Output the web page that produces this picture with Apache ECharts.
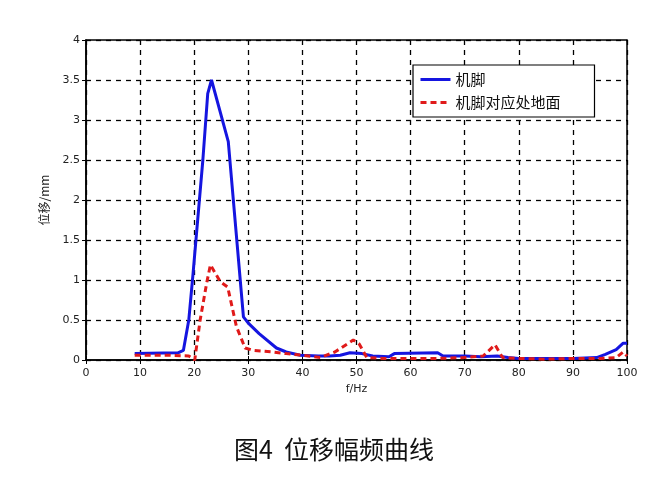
<!DOCTYPE html>
<html><head><meta charset="utf-8">
<script src="https://cdn.jsdelivr.net/npm/echarts@6/dist/echarts.min.js"></script>
<style>html,body{margin:0;padding:0;background:#fff}#c{width:668px;height:478px}</style>
</head><body><div id="c"></div>
<script>
const blueFreq = [9, 17, 18, 19, 19.8, 21.6, 22.5, 23.2, 26.3, 29.1, 30, 32, 35.2, 37, 39.6, 43, 45, 47, 48.8, 51, 53, 56, 57, 65, 66, 70, 73, 76, 78, 80, 85, 90, 94.4, 96, 98, 99.3, 100];
const blueVals = [0.08, 0.09, 0.12, 0.5, 1.09, 2.5, 3.33, 3.5, 2.73, 0.54, 0.46, 0.33, 0.15, 0.1, 0.06, 0.05, 0.05, 0.06, 0.09, 0.08, 0.05, 0.04, 0.08, 0.09, 0.05, 0.05, 0.04, 0.05, 0.03, 0.02, 0.02, 0.02, 0.03, 0.07, 0.13, 0.21, 0.21];
const redFreq = [9, 15, 19, 20.1, 21.1, 22.3, 23, 24.8, 26.2, 27.8, 29.4, 30.9, 34.6, 37, 40, 43.3, 46, 49.4, 50.5, 51.9, 55, 60, 65, 70, 73.4, 75.6, 77, 80, 85, 90, 95, 98, 99.3, 100];
const redVals = [0.06, 0.06, 0.05, 0.0, 0.5, 0.96, 1.19, 0.98, 0.91, 0.42, 0.15, 0.12, 0.1, 0.08, 0.06, 0.03, 0.1, 0.25, 0.2, 0.03, 0.02, 0.02, 0.02, 0.03, 0.05, 0.19, 0.03, 0.02, 0.01, 0.02, 0.02, 0.03, 0.1, 0.05];
const seriesNames = ['机脚', '机脚对应处地面'];
const xTitle = 'f/Hz';
const yTitle = '位移/mm';
const caption = '图4  位移幅频曲线';

const pair = (xs, ys) => xs.map((x, i) => [x, ys[i]]);
const chart = echarts.init(document.getElementById('c'));
const labelStyle = {color: '#222', fontSize: 11, fontFamily: 'DejaVu Sans'};
chart.setOption({
  animation: false,
  backgroundColor: '#fff',
  grid: {left: 86, right: 41, top: 40, bottom: 118, show: true, borderColor: '#000', borderWidth: 1.5, backgroundColor: 'transparent'},
  title: {text: caption, left: 'center', top: 432, textStyle: {fontSize: 25, fontWeight: 'normal', color: '#111', fontFamily: 'Noto Sans CJK SC'}},
  legend: {
    orient: 'vertical', left: 413, top: 65, width: 190,
    backgroundColor: '#fff', borderColor: '#000', borderWidth: 1.2, borderRadius: 0,
    padding: [7, 34, 7, 6], itemGap: 8, itemWidth: 30, itemHeight: 10,
    itemStyle: {opacity: 0},
    lineStyle: {width: 3},
    textStyle: {fontSize: 15, color: '#111', fontFamily: 'Noto Sans CJK SC'},
    data: seriesNames
  },
  xAxis: [{
    type: 'value', min: 0, max: 100, interval: 10,
    name: xTitle, nameLocation: 'middle', nameGap: 24,
    nameTextStyle: {color: '#222', fontSize: 11, fontFamily: 'DejaVu Sans'},
    axisLine: {show: true, lineStyle: {color: '#000', width: 1.5}},
    axisTick: {show: true, inside: true, length: 4, lineStyle: {color: '#000'}},
    axisLabel: labelStyle,
    splitLine: {show: true, lineStyle: {color: '#000', type: [5, 5], width: 1.3}}
  }, {
    type: 'value', position: 'top', min: 0, max: 100, interval: 10,
    axisLine: {show: false}, axisTick: {show: true, inside: true, length: 4, lineStyle: {color: '#000'}},
    axisLabel: {show: false}, splitLine: {show: false}
  }],
  yAxis: [{
    type: 'value', min: 0, max: 4, interval: 0.5,
    name: yTitle, nameLocation: 'middle', nameGap: 36,
    nameTextStyle: {color: '#222', fontSize: 12, fontFamily: 'Noto Sans CJK SC'},
    axisLine: {show: true, lineStyle: {color: '#000', width: 1.5}},
    axisTick: {show: true, inside: true, length: 4, lineStyle: {color: '#000'}},
    axisLabel: Object.assign({margin: 6}, labelStyle),
    splitLine: {show: true, lineStyle: {color: '#000', type: [5, 5], width: 1.3}}
  }, {
    type: 'value', position: 'right', min: 0, max: 4, interval: 0.5,
    axisLine: {show: false}, axisTick: {show: true, inside: true, length: 4, lineStyle: {color: '#000'}},
    axisLabel: {show: false}, splitLine: {show: false}
  }],
  series: [{
    name: seriesNames[0], type: 'line', symbol: 'none', z: 3,
    lineStyle: {color: '#1515e0', width: 3},
    itemStyle: {color: '#1515e0'},
    data: pair(blueFreq, blueVals)
  }, {
    name: seriesNames[1], type: 'line', symbol: 'none', z: 4,
    lineStyle: {color: '#e01a1a', width: 3, type: [6, 4]},
    itemStyle: {color: '#e01a1a'},
    data: pair(redFreq, redVals)
  }]
});
</script></body></html>
